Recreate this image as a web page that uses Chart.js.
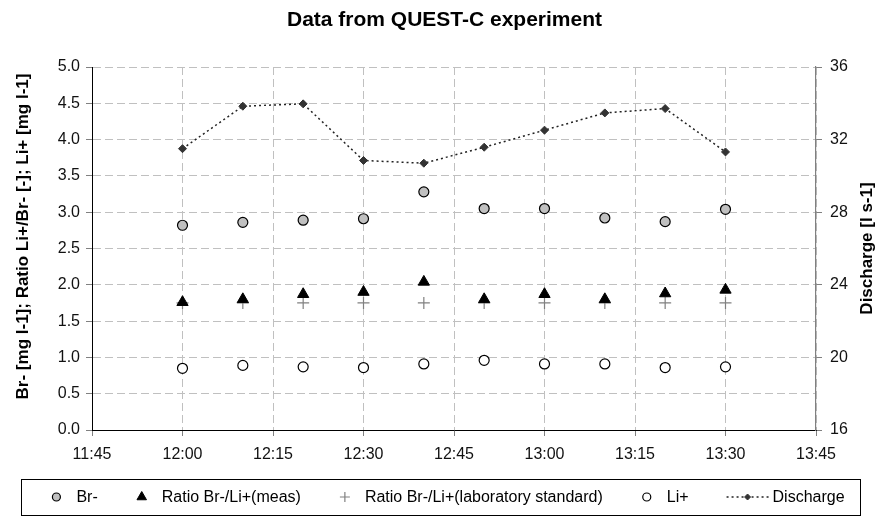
<!DOCTYPE html>
<html>
<head>
<meta charset="utf-8">
<script src="https://cdn.jsdelivr.net/npm/chart.js@4.4.1/dist/chart.umd.min.js"></script>
<style>
  html, body { margin: 0; padding: 0; background: #fff; }
</style>
</head>
<body>
<canvas id="questChart" width="877" height="523"></canvas>
<script>
// sample times and measured values
var times = ['12:00', '12:10', '12:20', '12:30', '12:40', '12:50', '13:00', '13:10', '13:20', '13:30'];
var brValues = [2.82, 2.86, 2.89, 2.91, 3.28, 3.05, 3.05, 2.92, 2.87, 3.04];
var ratioMeas = [1.76, 1.80, 1.87, 1.90, 2.04, 1.80, 1.87, 1.80, 1.88, 1.93];
var ratioLab = [1.75, 1.75, 1.75, 1.75, 1.75, 1.75, 1.75, 1.75, 1.75, 1.75];
var liValues = [0.85, 0.89, 0.87, 0.86, 0.91, 0.96, 0.91, 0.91, 0.86, 0.87];
var discharge = [31.5, 33.84, 33.97, 30.85, 30.7, 31.58, 32.52, 33.47, 33.71, 31.32];

var xTickLabels = ['11:45', '12:00', '12:15', '12:30', '12:45', '13:00', '13:15', '13:30', '13:45'];
var leftTicks = ['0.0', '0.5', '1.0', '1.5', '2.0', '2.5', '3.0', '3.5', '4.0', '4.5', '5.0'];
var rightTicks = ['16', '20', '24', '28', '32', '36'];

function toMin(t) {
  var p = t.split(':');
  return parseInt(p[0], 10) * 60 + parseInt(p[1], 10);
}
function points(values) {
  return values.map(function (v, i) { return { x: toMin(times[i]), y: v }; });
}

var FONT = 'Arial, "Liberation Sans", sans-serif';
var gridColor = '#c0c0c0';

// title, right axis title (reads upward) and boxed legend
var decorPlugin = {
  id: 'decor',
  afterDraw: function (chart) {
    var ctx = chart.ctx;
    var area = chart.chartArea;
    ctx.save();
    ctx.fillStyle = '#000';
    ctx.textAlign = 'center';
    ctx.textBaseline = 'middle';
    ctx.font = 'bold 21px ' + FONT;
    ctx.fillText('Data from QUEST-C experiment', chart.width / 2 + 6, 20);

    ctx.font = 'bold 17px ' + FONT;
    ctx.save();
    ctx.translate(23, (area.top + area.bottom) / 2 - 12);
    ctx.rotate(-Math.PI / 2);
    ctx.fillText('Br- [mg l-1]; Ratio Li+/Br- [-]; Li+ [mg l-1]', 0, 0);
    ctx.restore();
    ctx.save();
    ctx.translate(867, (area.top + area.bottom) / 2);
    ctx.rotate(-Math.PI / 2);
    ctx.fillText('Discharge [l s-1]', 0, 0);
    ctx.restore();

    // legend
    var boxL = 21, boxR = 860, boxT = 479, boxB = 515;
    ctx.strokeStyle = '#000';
    ctx.lineWidth = 1;
    ctx.strokeRect(boxL + 0.5, boxT + 0.5, boxR - boxL, boxB - boxT);
    ctx.font = '16px ' + FONT;
    ctx.textAlign = 'left';
    var ds = chart.data.datasets;
    var iconGap = 14, itemGap = 38;
    var items = ds.map(function (d) {
      var iw = d.showLine === false ? 12 : 42;
      return { d: d, iw: iw, tw: ctx.measureText(d.label).width };
    });
    var total = 0;
    items.forEach(function (it, i) {
      total += it.iw + (it.iw > 12 ? 4 : iconGap) + it.tw + (i < items.length - 1 ? itemGap : 0);
    });
    var x = (boxL + boxR) / 2 + 7 - total / 2;
    var cy = (boxT + boxB) / 2;
    items.forEach(function (it) {
      var d = it.d;
      var cx = x + it.iw / 2;
      if (it.iw > 12) {
        ctx.save();
        ctx.strokeStyle = d.borderColor;
        ctx.lineWidth = d.borderWidth;
        ctx.setLineDash(d.borderDash);
        ctx.beginPath();
        ctx.moveTo(x, cy);
        ctx.lineTo(x + it.iw, cy);
        ctx.stroke();
        ctx.restore();
      }
      ctx.save();
      ctx.fillStyle = d.pointBackgroundColor;
      ctx.strokeStyle = d.pointBorderColor;
      ctx.lineWidth = d.pointBorderWidth;
      Chart.helpers.drawPoint(ctx, {
        pointStyle: d.pointStyle,
        radius: d.pointStyle === 'circle' ? 4 : d.pointRadius - 1,
        borderWidth: d.pointBorderWidth,
        rotation: 0
      }, cx, cy);
      ctx.restore();
      x += it.iw + (it.iw > 12 ? 4 : iconGap);
      ctx.fillStyle = '#000';
      ctx.fillText(d.label, x, cy + 1);
      x += it.tw + itemGap;
    });
    ctx.restore();
  }
};

var ctx = document.getElementById('questChart').getContext('2d');
var questChart = new Chart(ctx, {
  type: 'line',
  data: {
    datasets: [
      {
        label: 'Br-',
        data: points(brValues),
        showLine: false,
        yAxisID: 'y',
        pointStyle: 'circle',
        pointRadius: 5,
        pointBackgroundColor: '#c0c0c0',
        pointBorderColor: '#000',
        pointBorderWidth: 1.2
      },
      {
        label: 'Ratio Br-/Li+(meas)',
        data: points(ratioMeas),
        showLine: false,
        yAxisID: 'y',
        pointStyle: 'triangle',
        pointRadius: 6.5,
        pointBackgroundColor: '#000',
        pointBorderColor: '#000',
        pointBorderWidth: 1
      },
      {
        label: 'Ratio Br-/Li+(laboratory standard)',
        data: points(ratioLab),
        showLine: false,
        yAxisID: 'y',
        pointStyle: 'cross',
        pointRadius: 6,
        pointBackgroundColor: '#808080',
        pointBorderColor: '#808080',
        pointBorderWidth: 1.2
      },
      {
        label: 'Li+',
        data: points(liValues),
        showLine: false,
        yAxisID: 'y',
        pointStyle: 'circle',
        pointRadius: 5,
        pointBackgroundColor: '#fff',
        pointBorderColor: '#000',
        pointBorderWidth: 1.2
      },
      {
        label: 'Discharge',
        data: points(discharge),
        yAxisID: 'y2',
        borderColor: '#222',
        borderWidth: 1.5,
        borderDash: [2, 3],
        tension: 0,
        fill: false,
        pointStyle: 'rectRot',
        pointRadius: 4,
        pointBackgroundColor: '#333',
        pointBorderColor: '#333',
        pointBorderWidth: 1
      }
    ]
  },
  options: {
    responsive: false,
    animation: false,
    layout: { padding: { top: 67, left: 0, right: 0, bottom: 0 } },
    plugins: {
      legend: { display: false },
      title: { display: false },
      tooltip: { enabled: false }
    },
    scales: {
      x: {
        type: 'linear',
        min: toMin(xTickLabels[0]),
        max: toMin(xTickLabels[xTickLabels.length - 1]),
        afterFit: function (s) { s.height = 93; },
        ticks: {
          stepSize: 15,
          padding: 9,
          maxRotation: 0,
          autoSkip: false,
          color: '#111',
          font: { family: FONT, size: 16 },
          callback: function (v, i) { return xTickLabels[i]; }
        },
        grid: { color: gridColor, tickColor: '#808080', tickLength: 6 },
        border: { color: '#000', width: 1, dash: [8, 4] }
      },
      y: {
        position: 'left',
        min: 0,
        max: 5,
        afterFit: function (s) { s.width = 92; },
        ticks: {
          stepSize: 0.5,
          padding: 6,
          color: '#111',
          font: { family: FONT, size: 16 },
          callback: function (v, i) { return leftTicks[i]; }
        },
        grid: { color: gridColor, tickColor: '#808080', tickLength: 6 },
        border: { color: '#000', width: 1, dash: [8, 4] }
      },
      y2: {
        position: 'right',
        min: 16,
        max: 36,
        afterFit: function (s) { s.width = 61; },
        ticks: {
          stepSize: 4,
          padding: 8,
          color: '#111',
          font: { family: FONT, size: 16 },
          callback: function (v, i) { return rightTicks[i]; }
        },
        grid: { drawOnChartArea: false, color: '#808080', tickLength: 6 },
        border: { color: '#808080', width: 1.2 }
      }
    }
  },
  plugins: [decorPlugin]
});
</script>
</body>
</html>
